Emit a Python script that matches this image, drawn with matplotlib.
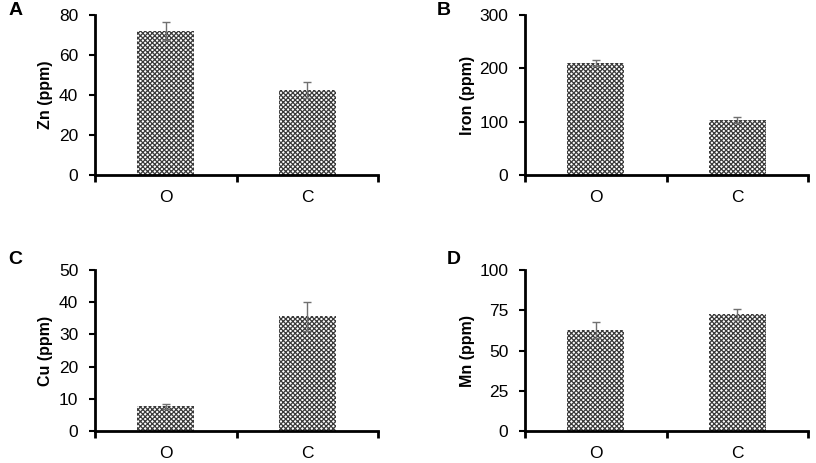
import numpy as np
import matplotlib
matplotlib.use('Agg')
import matplotlib.pyplot as plt

plt.rcParams['font.family'] = ['Liberation Sans', 'DejaVu Sans']
plt.rcParams['hatch.color'] = '#3a3a3a'
plt.rcParams['hatch.linewidth'] = 0.9

categories = ['O', 'C']

zn_vals = [72.0, 42.5]
zn_err = [4.5, 4.0]
iron_vals = [210.0, 103.0]
iron_err = [6.0, 5.0]
cu_vals = [7.7, 35.7]
cu_err = [0.8, 4.5]
mn_vals = [63.0, 72.5]
mn_err = [5.0, 3.5]

# letter, ylabel, values, errors, ymax, step, axes rect, label x, letter x, letter y
panels = [
    ('A', 'Zn (ppm)', zn_vals, zn_err, 80, 20, [0.1164, 0.622, 0.347, 0.3455], -0.148, -0.307, 1.03),
    ('B', 'Iron (ppm)', iron_vals, iron_err, 300, 100, [0.6434, 0.622, 0.347, 0.3455], -0.177, -0.31, 1.03),
    ('C', 'Cu (ppm)', cu_vals, cu_err, 50, 10, [0.1164, 0.069, 0.347, 0.3478], -0.148, -0.307, 1.065),
    ('D', 'Mn (ppm)', mn_vals, mn_err, 100, 25, [0.6434, 0.069, 0.347, 0.3478], -0.177, -0.275, 1.065),
]

fig = plt.figure(figsize=(8.16, 4.63), dpi=100)

for letter, ylabel, vals, errs, ymax, step, pos, lx, tx, ty in panels:
    ax = fig.add_axes(pos)
    x = np.arange(len(categories)) + 0.5
    ax.bar(x, vals, width=0.4, color='white', edgecolor='#3a3a3a',
           hatch='xxxxxxx', linewidth=0)
    ax.errorbar(x, vals, yerr=errs, fmt='none', ecolor='#707070',
                elinewidth=1, capsize=3, capthick=1)
    ax.set_xlim(0, len(categories))
    ax.set_ylim(0, ymax)
    ax.set_yticks(np.arange(0, ymax + step, step))
    ax.set_xticks([0, 1, 2])
    ax.set_xticklabels([])
    ax.set_xticks(x, minor=True)
    ax.set_xticklabels(categories, minor=True)
    ax.tick_params(axis='x', which='minor', length=0, labelsize=12.5, pad=11)
    ax.tick_params(axis='x', which='major', length=5, width=2, direction='out')
    ax.tick_params(axis='y', length=4, width=1.5, direction='out', labelsize=12.5, pad=8)
    for s in ['top', 'right']:
        ax.spines[s].set_visible(False)
    for s in ['left', 'bottom']:
        ax.spines[s].set_linewidth(2)
    ax.set_ylabel(ylabel, fontsize=11.5, fontweight='bold')
    ax.yaxis.set_label_coords(lx, 0.5)
    ax.text(tx, ty, letter, transform=ax.transAxes, fontsize=14,
            fontweight='bold', va='center', ha='left')

fig.savefig('out.png', dpi=100)
